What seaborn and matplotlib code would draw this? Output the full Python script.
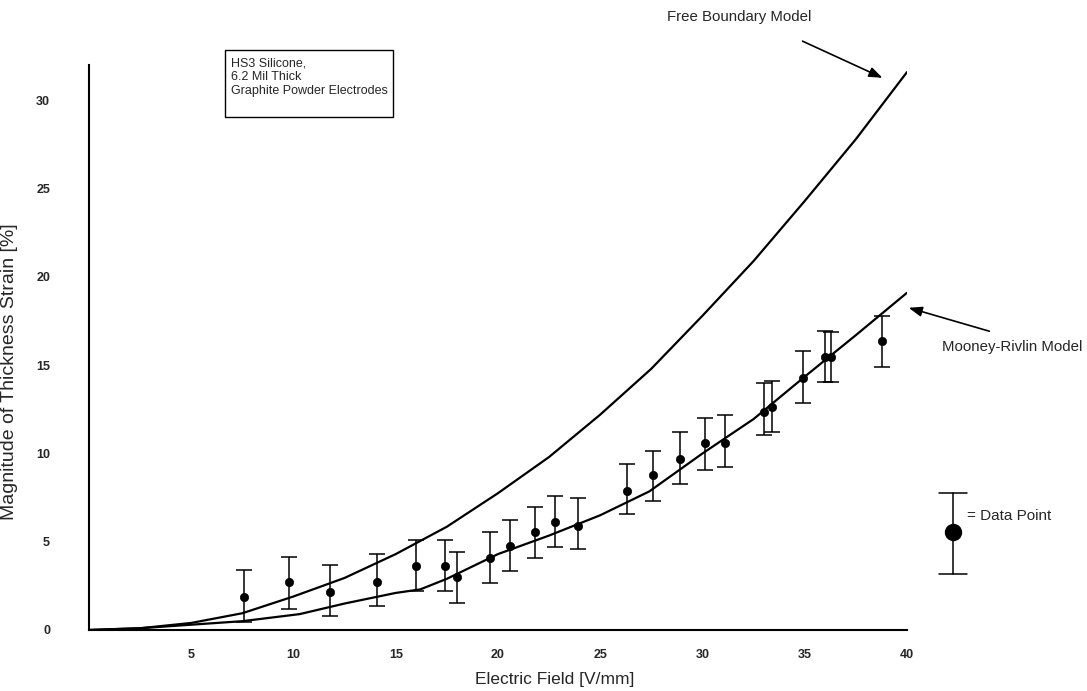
import numpy as np
import pandas as pd
import matplotlib
matplotlib.use("Agg")
import matplotlib.pyplot as plt
import seaborn as sns
from matplotlib.lines import Line2D
from matplotlib.patches import Rectangle
from matplotlib.ticker import MultipleLocator

# measured data points (electric field V/mm, thickness strain %)
field_pts = [7.6, 9.8, 11.8, 14.1, 16.0, 17.4, 18.0, 19.6, 20.6, 21.8, 22.8, 23.9,
             26.3, 27.6, 28.9, 30.1, 31.1, 33.0, 33.4, 34.9, 36.0, 36.3, 38.8]
strain_pts = [1.85, 2.73, 2.17, 2.70, 3.64, 3.64, 2.98, 4.09, 4.75, 5.53, 6.10, 5.89,
              7.88, 8.79, 9.66, 10.57, 10.57, 12.35, 12.64, 14.30, 15.47, 15.47, 16.34]
strain_low = [0.47, 1.19, 0.79, 1.38, 2.21, 2.21, 1.55, 2.64, 3.34, 4.09, 4.70, 4.57,
              6.55, 7.32, 8.25, 9.09, 9.24, 11.07, 11.20, 12.86, 14.03, 14.03, 14.87]
strain_high = [3.40, 4.11, 3.68, 4.30, 5.09, 5.09, 4.43, 5.56, 6.23, 6.98, 7.58, 7.45,
               9.43, 10.15, 11.19, 12.02, 12.15, 14.00, 14.13, 15.79, 16.92, 16.88, 17.79]

# model curves
free_field = [0, 2.5, 5, 7.5, 10, 12.5, 15, 17.5, 20, 22.5, 25, 27.5, 30, 32.5, 35, 37.5, 40]
free_strain = [0, 0.1, 0.4, 0.95, 1.9, 2.95, 4.3, 5.85, 7.75, 9.8, 12.2, 14.8, 17.8,
               20.9, 24.3, 27.8, 31.6]
mr_field = [0, 2.5, 5, 7.5, 10.3, 12.5, 15, 16.2, 17.5, 20, 22.5, 25, 27.4, 30, 32.5,
            35, 37.5, 40]
mr_strain = [0, 0.1, 0.3, 0.5, 0.9, 1.5, 2.1, 2.3, 2.9, 4.3, 5.35, 6.5, 7.85, 10.0,
             11.95, 14.35, 16.7, 19.1]

W, H = 1087, 691


def fx(px):
    return px / W


def fy(py):
    return 1 - py / H


sns.set_style("white")
plt.rcParams['font.family'] = ['Liberation Sans', 'DejaVu Sans']

fig = plt.figure(figsize=(W / 100, H / 100), dpi=100)
ax = fig.add_axes([fx(89), fy(630), fx(907) - fx(89), fy(65) - fy(630)])

free_df = pd.DataFrame({"field": free_field, "strain": free_strain})
mr_df = pd.DataFrame({"field": mr_field, "strain": mr_strain})
sns.lineplot(data=free_df, x="field", y="strain", ax=ax, color="black", lw=1.6)
sns.lineplot(data=mr_df, x="field", y="strain", ax=ax, color="black", lw=1.6)

y = np.array(strain_pts)
yerr = [y - np.array(strain_low), np.array(strain_high) - y]
ax.errorbar(field_pts, strain_pts, yerr=yerr, fmt="none", ecolor="black",
            elinewidth=1.1, capsize=6, capthick=1.1)
sns.scatterplot(x=field_pts, y=strain_pts, ax=ax, color="black", s=36,
                edgecolor="black", zorder=3)

ax.set_xlim(0, 40)
ax.set_ylim(0, 32)
ax.set_xticks(range(5, 41, 5))
ax.set_yticks(range(0, 31, 5))
ax.xaxis.set_minor_locator(MultipleLocator(1))
ax.tick_params(axis="x", which="major", direction="in", length=3, width=1, pad=14,
               labelsize=9)
ax.tick_params(axis="x", which="minor", direction="in", length=2, width=0.8)
ax.tick_params(axis="y", direction="in", length=3, width=1, pad=28, labelsize=9)
for lab in ax.get_xticklabels() + ax.get_yticklabels():
    lab.set_fontweight("bold")

sns.despine(ax=ax)
for side in ["left", "bottom"]:
    ax.spines[side].set_color("black")
    ax.spines[side].set_linewidth(1.5)

ax.set_xlabel("Electric Field [V/mm]", fontsize=12.5)
ax.set_ylabel("Magnitude of Thickness Strain [%]", fontsize=14)
ax.xaxis.set_label_coords((555 - 89) / 818, (630 - 672) / 565)
ax.yaxis.set_label_coords((18 - 89) / 818, (630 - 372) / 565)

# info box
fig.add_artist(Rectangle((fx(225), fy(117)), fx(393) - fx(225), fy(50) - fy(117),
                         transform=fig.transFigure, fill=False, ec="black", lw=1))
fig.text(fx(231), fy(58), "HS3 Silicone,\n6.2 Mil Thick\nGraphite Powder Electrodes",
         fontsize=9, va="top", ha="left", linespacing=1.15)

# model annotations
fig.text(fx(667), fy(17), "Free Boundary Model", fontsize=10.8, va="center", ha="left")
ax.annotate("", xy=(885, H - 79), xytext=(800, H - 40), xycoords="figure pixels",
            textcoords="figure pixels", annotation_clip=False,
            arrowprops=dict(arrowstyle="-|>,head_length=0.8,head_width=0.3",
                            color="black", lw=1.2))
fig.text(fx(942), fy(347), "Mooney-Rivlin Model", fontsize=10.8, va="center", ha="left")
ax.annotate("", xy=(906, H - 307), xytext=(992, H - 332), xycoords="figure pixels",
            textcoords="figure pixels", annotation_clip=False,
            arrowprops=dict(arrowstyle="-|>,head_length=0.8,head_width=0.3",
                            color="black", lw=1.2))

# data point key
kx = 952.7
fig.add_artist(Line2D([fx(kx), fx(kx)], [fy(493), fy(574)], transform=fig.transFigure,
                      color="black", lw=1.1))
for cy in (493, 574):
    fig.add_artist(Line2D([fx(kx - 14), fx(kx + 14)], [fy(cy), fy(cy)],
                          transform=fig.transFigure, color="black", lw=1.1))
fig.add_artist(Line2D([fx(kx)], [fy(532)], transform=fig.transFigure, marker="o",
                      markersize=11.5, color="black", lw=0))
fig.text(fx(967), fy(516), "= Data Point", fontsize=11, va="center", ha="left")

fig.savefig("out.png", dpi=100, facecolor="white")
